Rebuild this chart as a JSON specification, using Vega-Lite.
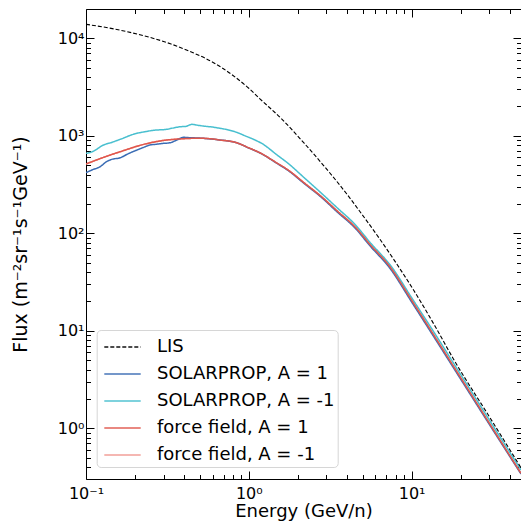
{
  "$schema": "https://vega.github.io/schema/vega-lite/v6.json",
  "width": 435,
  "height": 470,
  "autosize": "none",
  "padding": {"left": 86, "top": 9, "right": 0, "bottom": 43},
  "background": "white",
  "config": {
    "view": {"stroke": null},
    "font": "DejaVu Sans",
    "axis": {"labelFont": "DejaVu Sans", "titleFont": "DejaVu Sans", "labelColor": "#000", "titleColor": "#000", "tickColor": "#000", "domainColor": "#000", "grid": false, "titleFontWeight": "normal", "tickWidth": 1, "domainWidth": 1},
    "legend": {"labelFont": "DejaVu Sans", "labelColor": "#000"}
  },
  "datasets": {
    "curves": [
      {"s": "force field, A = -1", "E": 0.1, "F": 514},
      {"s": "force field, A = -1", "E": 0.128, "F": 601},
      {"s": "force field, A = -1", "E": 0.162, "F": 687},
      {"s": "force field, A = -1", "E": 0.2305, "F": 824},
      {"s": "force field, A = -1", "E": 0.313, "F": 906},
      {"s": "force field, A = -1", "E": 0.38, "F": 930},
      {"s": "force field, A = -1", "E": 0.447, "F": 942},
      {"s": "force field, A = -1", "E": 0.527, "F": 942},
      {"s": "force field, A = -1", "E": 0.667, "F": 906},
      {"s": "force field, A = -1", "E": 0.843, "F": 849},
      {"s": "force field, A = -1", "E": 1.0, "F": 753},
      {"s": "force field, A = -1", "E": 1.17, "F": 670},
      {"s": "force field, A = -1", "E": 1.5, "F": 522},
      {"s": "force field, A = -1", "E": 1.744, "F": 446},
      {"s": "force field, A = -1", "E": 2.2, "F": 327},
      {"s": "force field, A = -1", "E": 2.8, "F": 237},
      {"s": "force field, A = -1", "E": 3.5, "F": 169},
      {"s": "force field, A = -1", "E": 4.48, "F": 117},
      {"s": "force field, A = -1", "E": 5.55, "F": 77},
      {"s": "force field, A = -1", "E": 7.36, "F": 45.4},
      {"s": "force field, A = -1", "E": 10, "F": 20.6},
      {"s": "force field, A = -1", "E": 14.3, "F": 8.05},
      {"s": "force field, A = -1", "E": 20, "F": 3.31},
      {"s": "force field, A = -1", "E": 30, "F": 1.13},
      {"s": "force field, A = -1", "E": 47, "F": 0.345},

      {"s": "SOLARPROP, A = 1", "E": 0.1, "F": 419},
      {"s": "SOLARPROP, A = 1", "E": 0.11, "F": 450},
      {"s": "SOLARPROP, A = 1", "E": 0.122, "F": 482},
      {"s": "SOLARPROP, A = 1", "E": 0.133, "F": 540},
      {"s": "SOLARPROP, A = 1", "E": 0.144, "F": 574},
      {"s": "SOLARPROP, A = 1", "E": 0.162, "F": 595},
      {"s": "SOLARPROP, A = 1", "E": 0.18, "F": 650},
      {"s": "SOLARPROP, A = 1", "E": 0.205, "F": 714},
      {"s": "SOLARPROP, A = 1", "E": 0.225, "F": 760},
      {"s": "SOLARPROP, A = 1", "E": 0.247, "F": 805},
      {"s": "SOLARPROP, A = 1", "E": 0.27, "F": 820},
      {"s": "SOLARPROP, A = 1", "E": 0.299, "F": 837},
      {"s": "SOLARPROP, A = 1", "E": 0.33, "F": 850},
      {"s": "SOLARPROP, A = 1", "E": 0.361, "F": 906},
      {"s": "SOLARPROP, A = 1", "E": 0.397, "F": 966},
      {"s": "SOLARPROP, A = 1", "E": 0.42, "F": 960},
      {"s": "SOLARPROP, A = 1", "E": 0.447, "F": 955},
      {"s": "SOLARPROP, A = 1", "E": 0.49, "F": 950},
      {"s": "SOLARPROP, A = 1", "E": 0.527, "F": 942},
      {"s": "SOLARPROP, A = 1", "E": 0.6, "F": 925},
      {"s": "SOLARPROP, A = 1", "E": 0.667, "F": 906},
      {"s": "SOLARPROP, A = 1", "E": 0.75, "F": 885},
      {"s": "SOLARPROP, A = 1", "E": 0.843, "F": 849},
      {"s": "SOLARPROP, A = 1", "E": 1.0, "F": 750},
      {"s": "SOLARPROP, A = 1", "E": 1.17, "F": 668},
      {"s": "SOLARPROP, A = 1", "E": 1.5, "F": 518},
      {"s": "SOLARPROP, A = 1", "E": 1.744, "F": 441},
      {"s": "SOLARPROP, A = 1", "E": 2.2, "F": 322},
      {"s": "SOLARPROP, A = 1", "E": 2.8, "F": 233},
      {"s": "SOLARPROP, A = 1", "E": 3.5, "F": 165},
      {"s": "SOLARPROP, A = 1", "E": 4.48, "F": 114},
      {"s": "SOLARPROP, A = 1", "E": 5.55, "F": 74.5},
      {"s": "SOLARPROP, A = 1", "E": 7.36, "F": 43.8},
      {"s": "SOLARPROP, A = 1", "E": 10, "F": 19.8},
      {"s": "SOLARPROP, A = 1", "E": 14.3, "F": 7.75},
      {"s": "SOLARPROP, A = 1", "E": 20, "F": 3.2},
      {"s": "SOLARPROP, A = 1", "E": 30, "F": 1.1},
      {"s": "SOLARPROP, A = 1", "E": 47, "F": 0.34},

      {"s": "SOLARPROP, A = -1", "E": 0.1, "F": 661},
      {"s": "SOLARPROP, A = -1", "E": 0.11, "F": 690},
      {"s": "SOLARPROP, A = -1", "E": 0.128, "F": 805},
      {"s": "SOLARPROP, A = -1", "E": 0.145, "F": 860},
      {"s": "SOLARPROP, A = -1", "E": 0.162, "F": 920},
      {"s": "SOLARPROP, A = -1", "E": 0.2, "F": 1050},
      {"s": "SOLARPROP, A = -1", "E": 0.2305, "F": 1102},
      {"s": "SOLARPROP, A = -1", "E": 0.26, "F": 1140},
      {"s": "SOLARPROP, A = -1", "E": 0.313, "F": 1167},
      {"s": "SOLARPROP, A = -1", "E": 0.34, "F": 1200},
      {"s": "SOLARPROP, A = -1", "E": 0.379, "F": 1239},
      {"s": "SOLARPROP, A = -1", "E": 0.41, "F": 1250},
      {"s": "SOLARPROP, A = -1", "E": 0.447, "F": 1312},
      {"s": "SOLARPROP, A = -1", "E": 0.49, "F": 1280},
      {"s": "SOLARPROP, A = -1", "E": 0.527, "F": 1259},
      {"s": "SOLARPROP, A = -1", "E": 0.6, "F": 1230},
      {"s": "SOLARPROP, A = -1", "E": 0.667, "F": 1194},
      {"s": "SOLARPROP, A = -1", "E": 0.75, "F": 1150},
      {"s": "SOLARPROP, A = -1", "E": 0.843, "F": 1086},
      {"s": "SOLARPROP, A = -1", "E": 0.95, "F": 1000},
      {"s": "SOLARPROP, A = -1", "E": 1.07, "F": 920},
      {"s": "SOLARPROP, A = -1", "E": 1.2, "F": 837},
      {"s": "SOLARPROP, A = -1", "E": 1.5, "F": 632},
      {"s": "SOLARPROP, A = -1", "E": 1.744, "F": 522},
      {"s": "SOLARPROP, A = -1", "E": 2.2, "F": 369},
      {"s": "SOLARPROP, A = -1", "E": 2.8, "F": 257},
      {"s": "SOLARPROP, A = -1", "E": 3.5, "F": 182},
      {"s": "SOLARPROP, A = -1", "E": 4.48, "F": 124},
      {"s": "SOLARPROP, A = -1", "E": 5.55, "F": 81},
      {"s": "SOLARPROP, A = -1", "E": 7.53, "F": 45.4},
      {"s": "SOLARPROP, A = -1", "E": 10, "F": 21.9},
      {"s": "SOLARPROP, A = -1", "E": 14.3, "F": 8.69},
      {"s": "SOLARPROP, A = -1", "E": 20, "F": 3.57},
      {"s": "SOLARPROP, A = -1", "E": 30, "F": 1.22},
      {"s": "SOLARPROP, A = -1", "E": 47, "F": 0.373},

      {"s": "force field, A = 1", "E": 0.1, "F": 514},
      {"s": "force field, A = 1", "E": 0.128, "F": 601},
      {"s": "force field, A = 1", "E": 0.162, "F": 687},
      {"s": "force field, A = 1", "E": 0.2305, "F": 824},
      {"s": "force field, A = 1", "E": 0.313, "F": 906},
      {"s": "force field, A = 1", "E": 0.38, "F": 930},
      {"s": "force field, A = 1", "E": 0.447, "F": 942},
      {"s": "force field, A = 1", "E": 0.527, "F": 942},
      {"s": "force field, A = 1", "E": 0.667, "F": 906},
      {"s": "force field, A = 1", "E": 0.843, "F": 849},
      {"s": "force field, A = 1", "E": 1.0, "F": 753},
      {"s": "force field, A = 1", "E": 1.17, "F": 670},
      {"s": "force field, A = 1", "E": 1.5, "F": 522},
      {"s": "force field, A = 1", "E": 1.744, "F": 446},
      {"s": "force field, A = 1", "E": 2.2, "F": 327},
      {"s": "force field, A = 1", "E": 2.8, "F": 237},
      {"s": "force field, A = 1", "E": 3.5, "F": 169},
      {"s": "force field, A = 1", "E": 4.48, "F": 117},
      {"s": "force field, A = 1", "E": 5.55, "F": 77},
      {"s": "force field, A = 1", "E": 7.36, "F": 45.4},
      {"s": "force field, A = 1", "E": 10, "F": 20.6},
      {"s": "force field, A = 1", "E": 14.3, "F": 8.05},
      {"s": "force field, A = 1", "E": 20, "F": 3.31},
      {"s": "force field, A = 1", "E": 30, "F": 1.13},
      {"s": "force field, A = 1", "E": 47, "F": 0.345},

      {"s": "LIS", "E": 0.1, "F": 13930},
      {"s": "LIS", "E": 0.14, "F": 12735},
      {"s": "LIS", "E": 0.1945, "F": 11324},
      {"s": "LIS", "E": 0.333, "F": 8750},
      {"s": "LIS", "E": 0.455, "F": 7112},
      {"s": "LIS", "E": 0.6, "F": 5700},
      {"s": "LIS", "E": 0.8, "F": 4159},
      {"s": "LIS", "E": 1.0, "F": 3076},
      {"s": "LIS", "E": 1.17, "F": 2399},
      {"s": "LIS", "E": 1.59, "F": 1493},
      {"s": "LIS", "E": 2.2, "F": 832},
      {"s": "LIS", "E": 2.89, "F": 493},
      {"s": "LIS", "E": 4.0, "F": 253},
      {"s": "LIS", "E": 4.55, "F": 190},
      {"s": "LIS", "E": 6.38, "F": 87.3},
      {"s": "LIS", "E": 7.71, "F": 55.0},
      {"s": "LIS", "E": 8.47, "F": 43.4},
      {"s": "LIS", "E": 10.24, "F": 26.5},
      {"s": "LIS", "E": 14, "F": 11.0},
      {"s": "LIS", "E": 18, "F": 5.2},
      {"s": "LIS", "E": 30, "F": 1.32},
      {"s": "LIS", "E": 47, "F": 0.394}
    ],
    "dummy": [{"E": 1, "F": 1}]
  },
  "layer": [
    {
      "data": {"name": "curves"},
      "transform": [{"filter": "datum.s == 'force field, A = -1'"}],
      "mark": {"type": "line", "clip": true, "strokeWidth": 1.5, "interpolate": "monotone"},
      "encoding": {
        "x": {"field": "E", "type": "quantitative", "scale": {"type": "log", "domain": [0.1, 47], "nice": false}, "axis": null},
        "y": {"field": "F", "type": "quantitative", "scale": {"type": "log", "domain": [0.302, 20000], "nice": false}, "axis": null},
        "color": {"field": "s", "type": "nominal", "scale": {"domain": ["LIS", "SOLARPROP, A = 1", "SOLARPROP, A = -1", "force field, A = 1", "force field, A = -1"], "range": ["#000000", "#3a6cb4", "#48bfcf", "#e0574c", "#f29a92"]}, "legend": {"orient": "none", "legendX": 10.7, "legendY": 321, "title": null, "labelFontSize": 18, "labelLimit": 400, "symbolType": "M-1.4,0H1.4", "symbolSize": 676, "symbolStrokeWidth": 1.8, "symbolOpacity": 0.7, "rowPadding": 4, "padding": 3, "symbolOffset": 8.8, "labelOffset": 20.5, "strokeColor": "#d6d6d6", "fillColor": "rgba(255,255,255,0.85)", "cornerRadius": 4}},
        "strokeDash": {"field": "s", "type": "nominal", "scale": {"domain": ["LIS", "SOLARPROP, A = 1", "SOLARPROP, A = -1", "force field, A = 1", "force field, A = -1"], "range": [[4, 2], [1, 0], [1, 0], [1, 0], [1, 0]]}}
      }
    },
    {
      "data": {"name": "curves"},
      "transform": [{"filter": "datum.s != 'force field, A = -1' && datum.s != 'LIS'"}],
      "mark": {"type": "line", "clip": true, "strokeWidth": 1.5, "interpolate": "monotone"},
      "encoding": {
        "x": {"field": "E", "type": "quantitative", "scale": {"type": "log", "domain": [0.1, 47], "nice": false}, "axis": {"orient": "bottom", "values": [0.1, 1, 10], "ticks": false, "domain": true, "labelFontSize": 16, "labelPadding": 6, "labelFlush": false, "labelOverlap": false, "labelBound": false, "labelExpr": "datum.value < 0.5 ? '10⁻¹' : datum.value < 5 ? '10⁰' : '10¹'", "title": "Energy (GeV/n)", "titleFontSize": 18, "titlePadding": 1}},
        "y": {"field": "F", "type": "quantitative", "scale": {"type": "log", "domain": [0.302, 20000], "nice": false}, "axis": {"orient": "left", "values": [1, 10, 100, 1000, 10000], "ticks": false, "domain": true, "labelFontSize": 16, "labelPadding": 2, "labelFlush": false, "labelOverlap": false, "labelBound": false, "labelExpr": "datum.value < 5 ? '10⁰' : datum.value < 50 ? '10¹' : datum.value < 500 ? '10²' : datum.value < 5000 ? '10³' : '10⁴'", "title": "Flux (m⁻²sr⁻¹s⁻¹GeV⁻¹)", "titleFontSize": 19, "titlePadding": 27}},
        "color": {"field": "s", "type": "nominal", "scale": {"domain": ["LIS", "SOLARPROP, A = 1", "SOLARPROP, A = -1", "force field, A = 1", "force field, A = -1"], "range": ["#000000", "#3a6cb4", "#48bfcf", "#e0574c", "#f29a92"]}},
        "strokeDash": {"field": "s", "type": "nominal", "scale": {"domain": ["LIS", "SOLARPROP, A = 1", "SOLARPROP, A = -1", "force field, A = 1", "force field, A = -1"], "range": [[4, 2], [1, 0], [1, 0], [1, 0], [1, 0]]}}
      }
    },
    {
      "data": {"name": "curves"},
      "transform": [{"filter": "datum.s == 'LIS'"}],
      "mark": {"type": "line", "clip": true, "strokeWidth": 1.1, "interpolate": "monotone"},
      "encoding": {
        "x": {"field": "E", "type": "quantitative", "scale": {"type": "log", "domain": [0.1, 47], "nice": false}, "axis": null},
        "y": {"field": "F", "type": "quantitative", "scale": {"type": "log", "domain": [0.302, 20000], "nice": false}, "axis": null},
        "color": {"field": "s", "type": "nominal", "scale": {"domain": ["LIS", "SOLARPROP, A = 1", "SOLARPROP, A = -1", "force field, A = 1", "force field, A = -1"], "range": ["#000000", "#3a6cb4", "#48bfcf", "#e0574c", "#f29a92"]}},
        "strokeDash": {"field": "s", "type": "nominal", "scale": {"domain": ["LIS", "SOLARPROP, A = 1", "SOLARPROP, A = -1", "force field, A = 1", "force field, A = -1"], "range": [[4, 2], [1, 0], [1, 0], [1, 0], [1, 0]]}}
      }
    },
    {
      "data": {"name": "dummy"},
      "mark": {"type": "point", "opacity": 0},
      "encoding": {
        "x": {"field": "E", "type": "quantitative", "scale": {"type": "log", "domain": [0.1, 47], "nice": false}, "axis": {"orient": "bottom", "values": [0.1, 1, 10], "labels": false, "domain": false, "tickSize": -8, "title": null}},
        "y": {"field": "F", "type": "quantitative", "scale": {"type": "log", "domain": [0.302, 20000], "nice": false}, "axis": {"orient": "left", "values": [1, 10, 100, 1000, 10000], "labels": false, "domain": false, "tickSize": -8, "title": null}}
      }
    },
    {
      "data": {"name": "dummy"},
      "mark": {"type": "point", "opacity": 0},
      "encoding": {
        "x": {"field": "E", "type": "quantitative", "scale": {"type": "log", "domain": [0.1, 47], "nice": false}, "axis": {"orient": "bottom", "values": [0.2, 0.3, 0.4, 0.5, 0.6, 0.7, 0.8, 0.9, 2, 3, 4, 5, 6, 7, 8, 9, 20, 30, 40], "labels": false, "domain": false, "tickSize": -4.5, "title": null}},
        "y": {"field": "F", "type": "quantitative", "scale": {"type": "log", "domain": [0.302, 20000], "nice": false}, "axis": {"orient": "left", "values": [0.4, 0.5, 0.6, 0.7, 0.8, 0.9, 2, 3, 4, 5, 6, 7, 8, 9, 20, 30, 40, 50, 60, 70, 80, 90, 200, 300, 400, 500, 600, 700, 800, 900, 2000, 3000, 4000, 5000, 6000, 7000, 8000, 9000], "labels": false, "domain": false, "tickSize": -4.5, "title": null}}
      }
    },
    {
      "data": {"name": "dummy"},
      "mark": {"type": "point", "opacity": 0},
      "encoding": {
        "x": {"field": "E", "type": "quantitative", "scale": {"type": "log", "domain": [0.1, 47], "nice": false}, "axis": {"orient": "top", "values": [0.1, 1, 10], "labels": false, "domain": true, "tickSize": -8, "title": null}},
        "y": {"field": "F", "type": "quantitative", "scale": {"type": "log", "domain": [0.302, 20000], "nice": false}, "axis": {"orient": "right", "values": [1, 10, 100, 1000, 10000], "labels": false, "domain": true, "tickSize": -8, "title": null}}
      }
    },
    {
      "data": {"name": "dummy"},
      "mark": {"type": "point", "opacity": 0},
      "encoding": {
        "x": {"field": "E", "type": "quantitative", "scale": {"type": "log", "domain": [0.1, 47], "nice": false}, "axis": {"orient": "top", "values": [0.2, 0.3, 0.4, 0.5, 0.6, 0.7, 0.8, 0.9, 2, 3, 4, 5, 6, 7, 8, 9, 20, 30, 40], "labels": false, "domain": false, "tickSize": -4.5, "title": null}},
        "y": {"field": "F", "type": "quantitative", "scale": {"type": "log", "domain": [0.302, 20000], "nice": false}, "axis": {"orient": "right", "values": [0.4, 0.5, 0.6, 0.7, 0.8, 0.9, 2, 3, 4, 5, 6, 7, 8, 9, 20, 30, 40, 50, 60, 70, 80, 90, 200, 300, 400, 500, 600, 700, 800, 900, 2000, 3000, 4000, 5000, 6000, 7000, 8000, 9000], "labels": false, "domain": false, "tickSize": -4.5, "title": null}}
      }
    }
  ],
  "resolve": {"axis": {"x": "independent", "y": "independent"}}
}
